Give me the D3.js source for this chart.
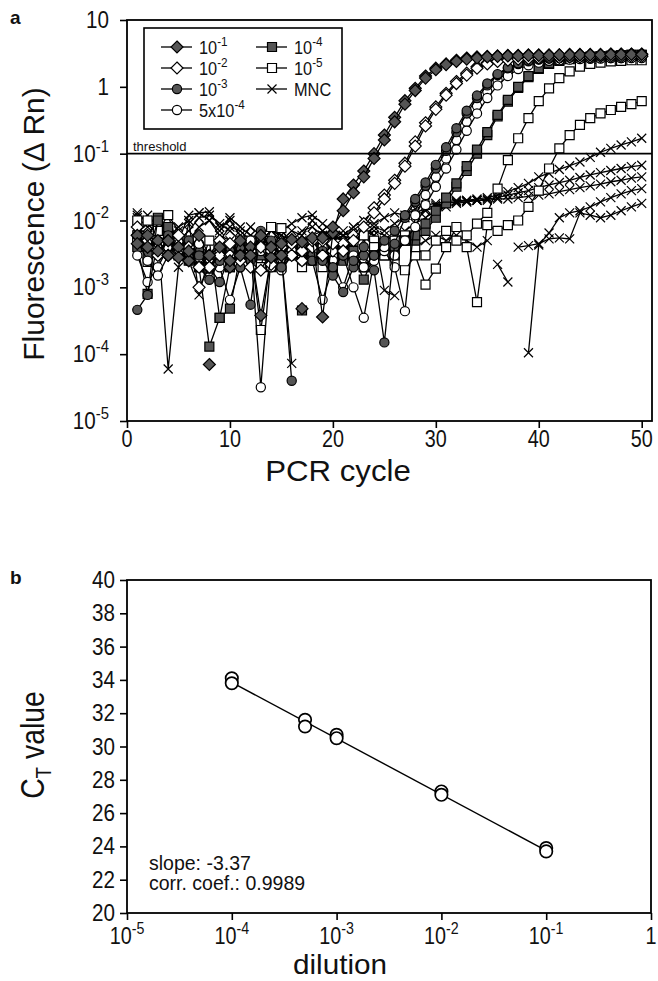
<!DOCTYPE html>
<html>
<head>
<meta charset="utf-8">
<title>qPCR dilution series</title>
<style>
  body { margin: 0; background: #fff; }
  text { font-family: "Liberation Sans", Arial, sans-serif; fill: #111; }
</style>
</head>
<body>
<script src="https://cdn.jsdelivr.net/npm/d3@7"></script>
<script>
// ---- panel a : amplification plots, delta Rn per cycle (cycles 1..50), null = not plotted
var cycles = d3.range(1, 51);

var dil1a = [6e-3, 4e-3, 5e-3, 3e-3, 4e-3, 2.5e-3, null, 7e-5, null, 2e-3,
             3e-3, 4e-3, 3.8e-4, 2.8e-3, 4.5e-3, 5.2e-3, 4.8e-3, 5.5e-3, 3.6e-4, 6.5e-3,
             0.021, 0.034, 0.055, 0.1, 0.19, 0.35, 0.62, 0.95, 1.45, 1.9,
             2.2, 2.5, 2.7, 2.8, 2.85, 2.9, 2.95, 2.95, 3.0, 3.0,
             3.0, 3.0, 3.05, 3.05, 3.05, 3.05, 3.1, 3.1, 3.1, 3.1];
var dil1b = [4.5e-3, 6e-3, 3.5e-3, 5e-3, 2.8e-3, 3.5e-3, 6e-3, 3e-3, 4e-3, 2.5e-3,
             5e-3, 3e-3, 6e-3, 4e-3, 3e-3, null, 4.8e-4, null, 5.5e-3, 8e-3,
             0.014, 0.026, 0.045, 0.085, 0.16, 0.3, 0.55, 0.88, 1.35, 1.8,
             2.15, 2.4, 2.6, 2.7, 2.8, 2.85, 2.9, 2.9, 2.95, 2.95,
             2.95, 3.0, 3.0, 3.0, 3.0, 3.0, 3.05, 3.05, 3.05, 3.05];
var dil2a = [6e-3, 4e-3, 3e-3, 5e-3, 3.5e-3, 2.5e-3, 1e-3, 2e-3, 3e-3, 4.5e-3,
             3e-3, 2e-3, 1.8e-3, 3.5e-3, 4e-3, 3e-3, 2.5e-3, 4e-3, 5e-3, 3.5e-3,
             4.5e-3, 6e-3, 9e-3, 0.0155, 0.024, 0.04, 0.072, 0.15, 0.29, 0.5,
             0.8, 1.2, 1.6, 2.0, 2.3, 2.45, 2.55, 2.65, 2.7, 2.75,
             2.8, 2.8, 2.85, 2.85, 2.85, 2.9, 2.9, 2.9, 2.9, 2.9];
var dil2b = [8e-3, 5e-3, 4e-3, 3e-3, 6e-3, 4e-3, 2e-3, 3e-3, 5e-3, 3e-3,
             2.5e-3, 3.5e-3, 4e-3, 2.2e-3, 3e-3, 4.5e-3, 3.5e-3, 5e-3, 3e-3, 4.5e-3,
             3.5e-3, 5e-3, 8e-3, 0.013, 0.021, 0.036, 0.065, 0.13, 0.26, 0.46,
             0.75, 1.12, 1.5, 1.9, 2.2, 2.4, 2.5, 2.6, 2.65, 2.7,
             2.75, 2.75, 2.8, 2.8, 2.8, 2.85, 2.85, 2.85, 2.85, 2.85];
var dil3a = [4.6e-4, 7.7e-4, 5e-3, 6e-3, 4e-3, 3e-3, 2e-3, 1.3e-3, 2.5e-3, 3.5e-3,
             2e-3, 5.5e-4, 7e-3, 5e-3, 3e-3, 4e-5, null, 3e-3, 2.5e-3, 1.5e-3,
             8.5e-4, 2e-3, 3e-3, 1.8e-3, 1.5e-4, 4.5e-3, 0.011, 0.019, 0.033, 0.06,
             0.11, 0.21, 0.4, 0.68, 1.05, 1.5, 1.9, 2.2, 2.4, 2.55,
             2.65, 2.7, 2.75, 2.8, 2.8, 2.85, 2.85, 2.85, 2.9, 2.9];
var dil3b = [6e-3, 4e-3, 3e-3, 5e-3, 4e-3, 5e-3, 3e-3, 2e-3, 1.2e-3, 3e-3,
             4e-3, 2.5e-3, 5.5e-3, 4e-3, 2e-3, 3e-3, 4e-3, 2.5e-3, 3.5e-3, 2e-3,
             3e-3, 2.5e-3, 4e-3, 3e-3, 5e-3, 7e-3, 0.012, 0.021, 0.037, 0.068,
             0.125, 0.24, 0.44, 0.74, 1.12, 1.55, 1.95, 2.25, 2.45, 2.6,
             2.7, 2.75, 2.8, 2.8, 2.85, 2.85, 2.9, 2.9, 2.9, 2.9];
var dil54a = [3e-3, 1.2e-3, 2e-3, 4e-3, 3e-3, 2.5e-3, 4.5e-3, 3e-3, 2e-3, 6.5e-4,
              2e-3, 4e-3, 3.2e-5, 3e-3, 2e-3, 3.5e-3, 4e-3, 2.5e-3, 6.5e-4, 2e-3,
              3e-3, 1e-3, 3.5e-4, 2.5e-3, 3.5e-3, 2e-3, 4.4e-4, 0.012, 0.024, 0.045,
              0.085, 0.16, 0.3, 0.52, 0.85, 1.25, 1.65, 2.0, 2.25, 2.4,
              2.5, 2.55, 2.6, 2.65, 2.65, 2.7, 2.7, 2.7, 2.75, 2.75];
var dil54b = [5e-3, 2.5e-3, 1.5e-3, 3e-3, 5e-3, 3.5e-3, 2.8e-3, 2e-3, 3.5e-3, 4e-3,
              3e-3, 5e-3, 3.5e-3, 2e-3, 1.8e-3, 3e-3, 2.5e-3, 3.5e-3, 4e-3, 2.5e-3,
              1e-3, 3e-3, 2e-3, 3e-3, 4e-3, 3e-3, 5e-3, 8e-3, 0.017, 0.032,
              0.06, 0.115, 0.22, 0.4, 0.68, 1.05, 1.45, 1.85, 2.1, 2.3,
              2.45, 2.5, 2.55, 2.6, 2.65, 2.65, 2.7, 2.7, 2.7, 2.7];
var dil4a = [4e-3, 8e-4, 0.011, 6e-3, 4e-3, 3e-3, 2e-3, 1.3e-4, 3.5e-4, 4.8e-4,
             3e-3, 5e-3, 3e-3, 2e-3, 4e-3, null, 4.5e-4, null, 3e-3, 2e-3,
             4e-3, 3e-3, 1.3e-3, 3e-3, 4e-3, 3.5e-3, 5e-3, 5e-3, 7e-3, 0.011,
             0.018, 0.032, 0.055, 0.1, 0.19, 0.36, 0.6, 0.96, 1.4, 1.85,
             2.2, 2.45, 2.6, 2.7, 2.8, 2.85, 2.9, 2.95, 3.0, 3.0];
var dil4b = [5e-3, 3e-3, 0.01, 8e-3, 5e-3, 2.5e-3, 4e-3, 1.9e-3, 3e-3, 2e-3,
             4e-3, 3e-3, 5.5e-3, 3e-3, 2e-3, 4e-3, 3.5e-3, 2.5e-3, 3e-3, 4e-3,
             2.5e-3, 3.5e-3, 2e-3, 3e-3, 4.5e-3, 3e-3, 5e-3, 6e-3, 9e-3, 0.014,
             0.022, 0.036, 0.065, 0.115, 0.21, 0.38, 0.64, 1.0, 1.45, 1.9,
             2.25, 2.5, 2.65, 2.75, 2.8, 2.85, 2.9, 2.95, 3.0, 3.0];
var dil5a = [0.01, 2.4e-3, 8e-3, 5e-3, 3e-3, 4e-3, 2e-3, 5e-3, 3.5e-4, 2e-3,
             3e-3, 4e-3, 2.3e-4, 3e-3, 7.7e-3, 4e-3, 3e-3, 5e-3, 2e-3, 3e-3,
             4e-3, 3e-3, 2e-3, 5e-3, 3e-3, 2.5e-3, 1.8e-3, 3e-3, 1.1e-3, 1.9e-3,
             4e-3, 8e-3, 6e-3, 9e-3, 0.013, 0.03, 0.08, 0.17, 0.34, 0.61,
             0.95, 1.35, 1.7, 2.0, 2.2, 2.3, 2.4, 2.45, 2.5, 2.5];
var dil5b = [6e-3, 0.01, 7e-3, 0.012, 4e-3, 5e-3, 3e-3, 2.5e-3, 4e-3, 3e-3,
             5e-3, 3e-3, 2e-3, 8e-3, 4e-3, 3e-3, 2e-3, 3.5e-3, 5e-3, 4e-3,
             3e-3, 5e-3, 6e-3, 4e-3, 3e-3, 5e-3, 6e-3, 4e-3, 3e-3, 5e-3,
             7e-3, 5e-3, 4e-3, 6e-4, 8.5e-3, 7e-3, 8.5e-3, 0.01, 0.016, 0.028,
             0.06, 0.12, 0.19, 0.27, 0.34, 0.40, 0.45, 0.50, 0.55, 0.61];
var mnc1 = [0.013, 9e-3, 6e-3, 6e-5, 2e-3, 9e-3, 0.013, 0.0135, 8e-3, 0.01,
            6e-3, 4e-3, 5e-3, 7e-3, 6e-3, 5e-3, 7e-3, 8e-3, 6e-3, 7e-3,
            6e-3, 8e-3, 0.01, 9e-3, 0.011, 0.013, 0.012, 0.015, 0.017, 0.018,
            0.019, 0.02, 0.02, 0.021, 0.022, 0.024, 0.027, 0.031, 0.036, 0.045,
            0.051, 0.058, 0.066, 0.075, 0.088, 0.105, 0.12, 0.135, 0.15, 0.17];
var mnc2 = [0.011, 8e-3, 0.01, 7e-3, 5e-3, 0.012, 0.013, 0.01, 7e-3, 0.011,
            8e-3, 6e-3, 4e-3, 5e-3, 3e-3, 7.3e-5, null, 4e-3, 6e-3, 5e-3,
            7e-3, 5e-3, 6e-3, 8e-3, 7e-3, 9e-3, 0.011, 0.013, 0.015, 0.017,
            0.018, 0.019, 0.02, 0.02, 0.021, 0.022, 0.024, 0.026, 0.028, 0.031,
            0.034, 0.037, 0.04, 0.044, 0.048, 0.052, 0.056, 0.06, 0.064, 0.067];
var mnc3 = [0.012, 0.01, 7e-3, 5e-3, 8e-3, 0.01, 7.7e-4, 3e-3, 5e-3, 8e-3,
            7e-3, 5e-3, 6e-3, 4e-3, 5e-3, 7e-3, 6e-3, 0.01, 7e-3, 5e-3,
            6e-3, 7e-3, 5e-3, 6e-3, 9e-4, 7.5e-4, null, 0.012, 0.014, 0.016,
            0.018, 0.019, 0.019, 0.02, 0.02, 0.021, 0.021, 0.022, 0.023, 0.024,
            0.025, 0.027, 0.029, 0.031, 0.033, 0.035, 0.038, 0.04, 0.043, 0.045];
var mnc4 = [8e-3, 6e-3, 0.01, 0.012, 7e-3, 5e-3, 8e-3, 0.01, 6e-3, 5e-3,
            4e-3, 6e-3, 5e-3, 7e-3, 6e-3, 4e-3, 5e-3, 6e-3, 7e-3, 6e-3,
            5e-3, 4e-3, 6e-3, 7e-3, 6e-3, 5e-3, 7e-3, 9e-3, 0.011, 0.014,
            0.016, 0.018, 0.019, 0.02, null, 2.2e-3, 1.2e-3, null, 1.05e-4, 4.3e-3,
            6.5e-3, 0.011, 0.013, 0.014, 0.016, 0.019, 0.022, 0.025, 0.028, 0.03];
var mnc5 = [0.01, 0.012, 8e-3, 6e-3, 5e-3, 7e-3, 0.011, 0.012, 9e-3, 7e-3,
            5e-3, 8e-3, 6e-3, 5e-3, 7e-3, 9e-3, 0.011, 0.012, 9e-3, 7e-3,
            6e-3, 5e-3, 7e-3, 6e-3, 5e-3, 6e-3, 5e-3, 4e-3, 5e-3, 6e-3,
            5e-3, 6e-3, 5e-3, 4e-3, 5e-3, null, null, 4e-3, 4.2e-3, 4.5e-3,
            5.3e-3, 5.5e-3, 5.3e-3, 0.013, 0.012, 0.011, 0.012, 0.014, 0.016, 0.018];

var threshold = 0.1;
var xTicksA = [0, 10, 20, 30, 40, 50];
var yTicksA = [10, 1, 0.1, 0.01, 0.001, 1e-4, 1e-5];
var yTickLabelsA = [["10", ""], ["1", ""], ["10", "-1"], ["10", "-2"], ["10", "-3"], ["10", "-4"], ["10", "-5"]];

// ---- panel b : standard curve
var dilution = [1e-1, 1e-1, 1e-2, 1e-2, 1e-3, 1e-3, 5e-4, 5e-4, 1e-4, 1e-4];
var ctValue  = [23.9, 23.7, 27.3, 27.1, 30.7, 30.5, 31.6, 31.2, 34.1, 33.8];
var fitDilution = [1e-4, 1e-1];
var fitCt = [33.85, 23.75];
var yTicksB = [20, 22, 24, 26, 28, 30, 32, 34, 36, 38, 40];
var xTicksB = [1e-5, 1e-4, 1e-3, 1e-2, 1e-1, 1];
var xTickLabelsB = [["10", "-5"], ["10", "-4"], ["10", "-3"], ["10", "-2"], ["10", "-1"], ["1", ""]];

// styles for the series (drawn bottom to top)
var dark = "#555";
var series = [
    {shape: "x",       fill: "none", runs: [mnc1, mnc2, mnc3, mnc4, mnc5]},
    {shape: "square",  fill: "#fff", runs: [dil5a, dil5b]},
    {shape: "square",  fill: dark,   runs: [dil4a, dil4b]},
    {shape: "circle",  fill: "#fff", runs: [dil54a, dil54b]},
    {shape: "circle",  fill: dark,   runs: [dil3a, dil3b]},
    {shape: "diamond", fill: "#fff", runs: [dil2a, dil2b]},
    {shape: "diamond", fill: dark,   runs: [dil1a, dil1b]}
];
var legendItems = [
    {shape: "diamond", fill: dark,   base: "10",   sup: "-1", col: 0, row: 0},
    {shape: "diamond", fill: "#fff", base: "10",   sup: "-2", col: 0, row: 1},
    {shape: "circle",  fill: dark,   base: "10",   sup: "-3", col: 0, row: 2},
    {shape: "circle",  fill: "#fff", base: "5x10", sup: "-4", col: 0, row: 3},
    {shape: "square",  fill: dark,   base: "10",   sup: "-4", col: 1, row: 0},
    {shape: "square",  fill: "#fff", base: "10",   sup: "-5", col: 1, row: 1},
    {shape: "x",       fill: "none", base: "MNC",  sup: "",   col: 1, row: 2}
];

var W = 658, H = 981;
var svg = d3.select("body").append("svg").attr("width", W).attr("height", H);

function markerPath(shape) {
    if (shape == "diamond") return "M0,-6L6,0L0,6L-6,0Z";
    if (shape == "square") return "M-4.5,-4.5H4.5V4.5H-4.5Z";
    if (shape == "circle") return "M4.6,0A4.6,4.6 0 1,1 -4.6,0A4.6,4.6 0 1,1 4.6,0Z";
    return "M-4.5,-4.5L4.5,4.5M-4.5,4.5L4.5,-4.5";
}

// label with optional superscript; sx squeezes it a bit like the original font
function label(g, x, y, base, sup, size, anchor, sx) {
    var t = g.append("text")
        .attr("transform", "translate(" + x + "," + y + ") scale(" + (sx || 0.86) + ",1)")
        .attr("text-anchor", anchor)
        .attr("font-size", size);
    t.append("tspan").text(base);
    if (sup) t.append("tspan").attr("font-size", size * 0.72).attr("dy", -size * 0.42).text(sup);
    return t;
}

// =================== panel a ===================
var xA = d3.scaleLinear().domain([0, 51]).range([127, 652]);
var yA = d3.scaleLog().domain([1e-5, 10]).range([421, 20]);

var gA = svg.append("g");

var line = d3.line()
    .defined(function (d) { return d != null; })
    .x(function (d, i) { return xA(cycles[i]); })
    .y(function (d) { return yA(d); });

series.forEach(function (s) {
    s.runs.forEach(function (run) {
        gA.append("path").attr("d", line(run))
            .attr("fill", "none").attr("stroke", "#000").attr("stroke-width", 1.3);
        gA.selectAll(null).data(run.map(function (v, i) { return [cycles[i], v]; })
                .filter(function (p) { return p[1] != null; }))
            .enter().append("path")
            .attr("transform", function (p) { return "translate(" + xA(p[0]) + "," + yA(p[1]) + ")"; })
            .attr("d", markerPath(s.shape))
            .attr("fill", s.fill).attr("stroke", "#000").attr("stroke-width", 1.2);
    });
});

// threshold
gA.append("line").attr("x1", xA(0)).attr("x2", xA(51))
    .attr("y1", yA(threshold)).attr("y2", yA(threshold))
    .attr("stroke", "#000").attr("stroke-width", 1.6);
gA.append("text").attr("x", 133).attr("y", yA(threshold) - 3)
    .attr("font-size", 13).text("threshold");

// frame
gA.append("rect").attr("x", 127).attr("y", 20).attr("width", 525).attr("height", 401)
    .attr("fill", "none").attr("stroke", "#000").attr("stroke-width", 1.8);

// axes
gA.append("g").attr("transform", "translate(0,421)")
    .call(d3.axisBottom(xA).tickValues(xTicksA).tickSize(7).tickSizeOuter(0).tickFormat(""))
    .call(function (g) { g.select(".domain").remove(); g.selectAll("line").attr("stroke-width", 1.6); });
gA.append("g").attr("transform", "translate(127,0)")
    .call(d3.axisLeft(yA).tickValues(yTicksA).tickSize(7).tickSizeOuter(0).tickFormat(""))
    .call(function (g) { g.select(".domain").remove(); g.selectAll("line").attr("stroke-width", 1.6); });

xTicksA.forEach(function (v) { label(gA, xA(v), 447, String(v), "", 23, "middle"); });
yTicksA.forEach(function (v, i) {
    label(gA, 109, yA(v) + 8, yTickLabelsA[i][0], yTickLabelsA[i][1], 24, "end");
});

label(gA, 338, 481, "PCR cycle", "", 30, "middle", 1.04);
gA.append("text").attr("transform", "translate(44,224) rotate(-90)")
    .attr("text-anchor", "middle").attr("font-size", 30).text("Fluorescence (\u0394 Rn)");
gA.append("text").attr("x", 10).attr("y", 24).attr("font-size", 19).attr("font-weight", "bold").text("a");

// legend
var lg = gA.append("g");
lg.append("rect").attr("x", 144).attr("y", 28).attr("width", 198).attr("height", 101)
    .attr("fill", "#fff").attr("stroke", "#000").attr("stroke-width", 1.6);
legendItems.forEach(function (it) {
    var cx = it.col == 0 ? 177 : 272;
    var cy = 47 + it.row * 21;
    lg.append("line").attr("x1", cx - 16).attr("x2", cx + 15).attr("y1", cy).attr("y2", cy)
        .attr("stroke", "#000").attr("stroke-width", 1.3);
    lg.append("path").attr("transform", "translate(" + cx + "," + cy + ")")
        .attr("d", markerPath(it.shape)).attr("fill", it.fill)
        .attr("stroke", "#000").attr("stroke-width", 1.2);
    label(lg, cx + 22, cy + 7, it.base, it.sup, 19, "start");
});

// =================== panel b ===================
var xB = d3.scaleLog().domain([1e-5, 1]).range([127, 651]);
var yB = d3.scaleLinear().domain([20, 40]).range([913, 580]);
var gB = svg.append("g");

gB.append("rect").attr("x", 127).attr("y", 580).attr("width", 524).attr("height", 333)
    .attr("fill", "none").attr("stroke", "#000").attr("stroke-width", 1.8);

gB.append("g").attr("transform", "translate(0,913)")
    .call(d3.axisBottom(xB).tickValues(xTicksB).tickSize(7).tickSizeOuter(0).tickFormat(""))
    .call(function (g) { g.select(".domain").remove(); g.selectAll("line").attr("stroke-width", 1.6); });
gB.append("g").attr("transform", "translate(127,0)")
    .call(d3.axisLeft(yB).tickValues(yTicksB).tickSize(7).tickSizeOuter(0).tickFormat(""))
    .call(function (g) { g.select(".domain").remove(); g.selectAll("line").attr("stroke-width", 1.6); });

yTicksB.forEach(function (v) { label(gB, 115, yB(v) + 8, String(v), "", 24, "end"); });
xTicksB.forEach(function (v, i) {
    label(gB, xB(v), 944, xTickLabelsB[i][0], xTickLabelsB[i][1], 23, "middle");
});

gB.append("path")
    .attr("d", d3.line().x(function (d, i) { return xB(fitDilution[i]); }).y(function (d) { return yB(d); })(fitCt))
    .attr("fill", "none").attr("stroke", "#000").attr("stroke-width", 1.4);

gB.selectAll(null).data(ctValue).enter().append("circle")
    .attr("cx", function (d, i) { return xB(dilution[i]); })
    .attr("cy", function (d) { return yB(d); })
    .attr("r", 6.2).attr("fill", "#fff").attr("stroke", "#000").attr("stroke-width", 1.7);

label(gB, 149, 870, "slope: -3.37", "", 19.5, "start", 1);
label(gB, 149, 890, "corr. coef.: 0.9989", "", 19.5, "start", 1);

label(gB, 340, 974, "dilution", "", 27, "middle", 1.1);
var ct = gB.append("text").attr("transform", "translate(44,745) rotate(-90) scale(0.86,1)")
    .attr("text-anchor", "middle").attr("font-size", 33);
ct.append("tspan").text("C");
ct.append("tspan").attr("font-size", 22).attr("dy", 7).text("T");
ct.append("tspan").attr("dy", -7).text(" value");
gB.append("text").attr("x", 10).attr("y", 584).attr("font-size", 19).attr("font-weight", "bold").text("b");
</script>
</body>
</html>
